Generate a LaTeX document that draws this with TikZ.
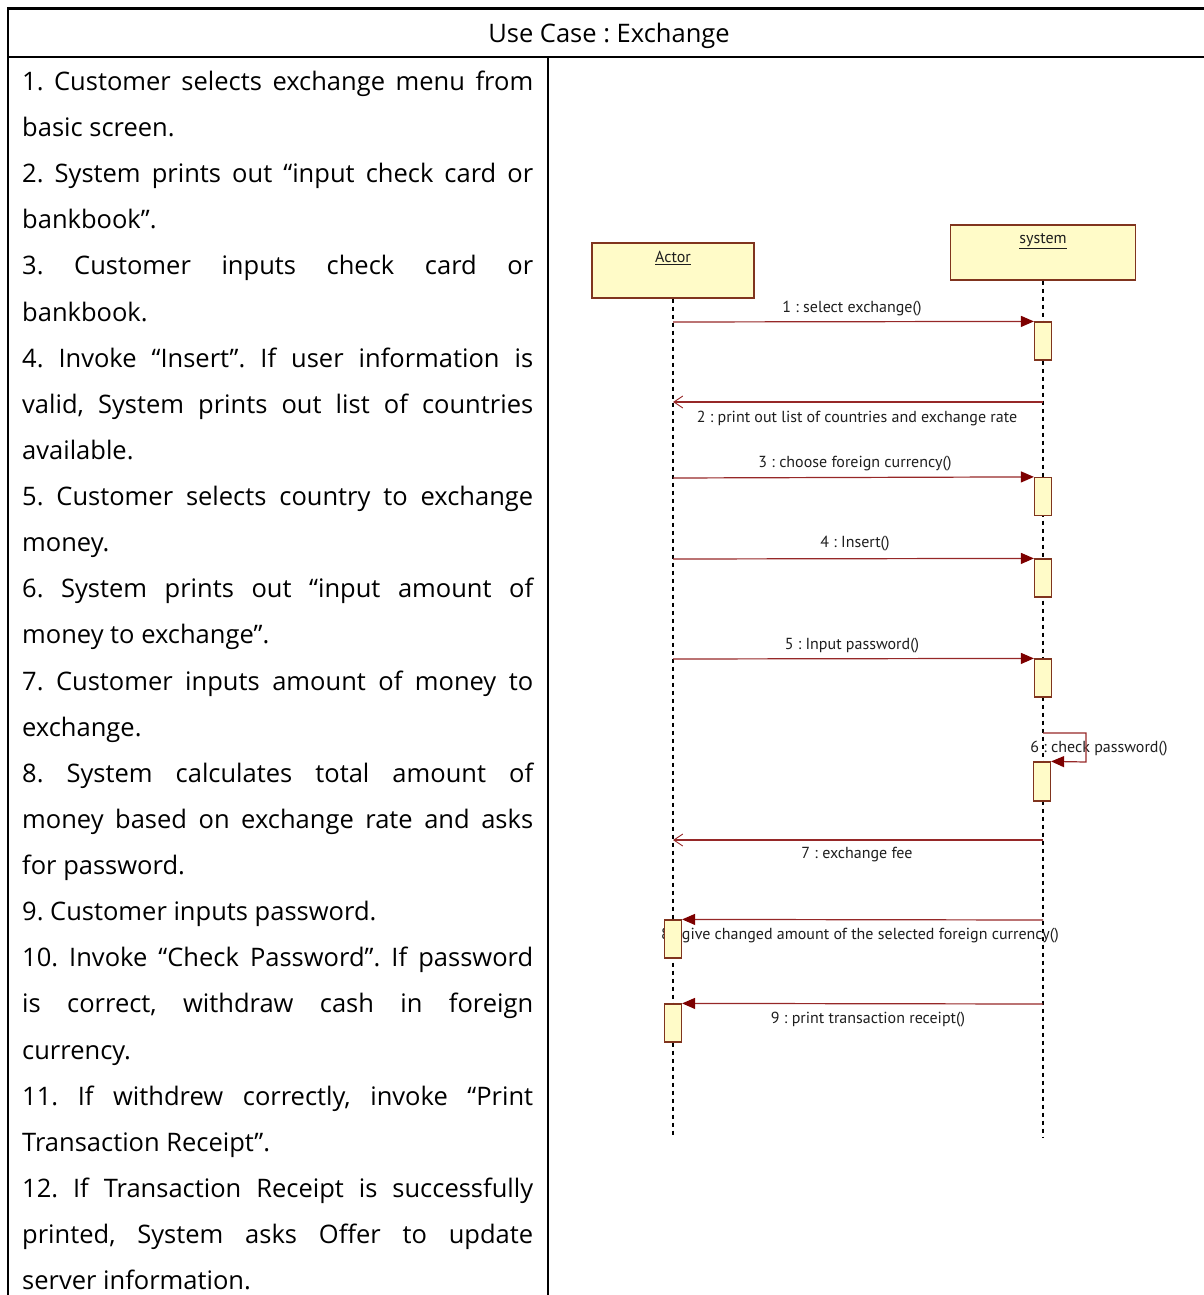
\documentclass[tikz,border=0pt]{standalone}
\usepackage{fontspec}
\setmainfont{Open Sans}
\newfontfamily\umlfont{PT Sans}
\usetikzlibrary{arrows.meta}
\frenchspacing

\definecolor{headfill}{RGB}{255,251,200}
\definecolor{headline}{RGB}{128,52,30}
\definecolor{msgline}{RGB}{150,40,40}
\definecolor{msghead}{RGB}{125,0,0}
\definecolor{umltext}{RGB}{30,30,30}

% one justified line of the step list
\newcommand\jline[1]{\makebox[511pt][s]{#1}}

\tikzset{
  tableline/.style={line width=2.4pt, black},
  rowtext/.style={anchor=base west, inner sep=0pt, font=\fontsize{25.5}{28}\selectfont},
  lifehead/.style={draw=headline, fill=headfill, line width=1.2pt, inner sep=0pt},
  headname/.style={inner sep=0pt, text=umltext, font=\umlfont\fontsize{16}{19}\selectfont},
  lifeline/.style={black, line width=1.5pt, dash pattern=on 4pt off 4pt},
  actbox/.style={draw=headline, fill=headfill, line width=1.2pt, minimum width=17pt, minimum height=38pt, inner sep=0pt},
  callmsg/.style={draw=msgline, line width=1.2pt, -{Triangle[length=13pt,width=11pt,fill=msghead,color=msghead]}},
  replymsg/.style={draw=msgline, line width=1.2pt, -{Straight Barb[length=9pt,width=12pt,line width=0.9pt,color=msgline]}},
  msglabel/.style={inner sep=0pt, text=umltext, font=\umlfont\fontsize{16}{19}\selectfont}
}

\begin{document}
\begin{tikzpicture}[x=1pt, y=-1pt]
\useasboundingbox (0,0) rectangle (1203,1295);

% table frame
\draw[tableline] (8,8.5) -- (1205,8.5);
\draw[tableline] (8,57) -- (1205,57);
\draw[tableline] (8,7.3) -- (8,1297);
\draw[tableline] (548,57) -- (548,1297);

\node[inner sep=0pt, font=\fontsize{25.5}{28}\selectfont] (title) at (609,36) {Use Case : Exchange};

% steps of the use case
\foreach \t [count=\i] in {
  {\jline{1. Customer selects exchange menu from}},
  {basic screen.},
  {\jline{2. System prints out “input check card or}},
  {bankbook”.},
  {\jline{3. Customer inputs check card or}},
  {bankbook.},
  {\jline{4. Invoke “Insert”. If user information is}},
  {\jline{valid, System prints out list of countries}},
  {available.},
  {\jline{5. Customer selects country to exchange}},
  {money.},
  {\jline{6. System prints out “input amount of}},
  {money to exchange”.},
  {\jline{7. Customer inputs amount of money to}},
  {exchange.},
  {\jline{8. System calculates total amount of}},
  {\jline{money based on exchange rate and asks}},
  {for password.},
  {9. Customer inputs password.},
  {\jline{10. Invoke “Check Password”. If password}},
  {\jline{is correct, withdraw cash in foreign}},
  {currency.},
  {\jline{11. If withdrew correctly, invoke “Print}},
  {Transaction Receipt”.},
  {\jline{12. If Transaction Receipt is successfully}},
  {\jline{printed, System asks Offer to update}},
  {server information.}}
  \node[rowtext] (row\i) at (22, {90.5 + 46.12*(\i-1)}) {\t};

% lifeline heads
\node[lifehead, minimum width=162pt, minimum height=55pt] (actor) at (673,270.5) {};
\node[headname] (actorname) at (673,258) {\underline{Actor}};
\node[lifehead, minimum width=185pt, minimum height=55pt] (system) at (1043,252.5) {};
\node[headname] (systemname) at (1043,241) {\underline{system}};

% lifelines
\coordinate (actorend) at (673,1138);
\coordinate (systemend) at (1043,1138);
\draw[lifeline] (actor.south) -- (actorend);
\draw[lifeline] (system.south) -- (systemend);

% message labels (drawn under the activation boxes)
\node[msglabel] (lab1) at (852,309) {1 : select exchange()};
\node[msglabel] (lab2) at (857,418) {2 : print out list of countries and exchange rate};
\node[msglabel] (lab3) at (855,464) {3 : choose foreign currency()};
\node[msglabel] (lab4) at (855,544) {4 : Insert()};
\node[msglabel] (lab5) at (852,646) {5 : Input password()};
\node[msglabel] (lab6) at (1099,749) {6 : check password()};
\node[msglabel] (lab7) at (857,855) {7 : exchange fee};
\node[msglabel] (lab8) at (860,936) {8 : give changed amount of the selected foreign currency()};
\node[msglabel] (lab9) at (868,1020) {9 : print transaction receipt()};

% activation boxes
\node[actbox] (sact1) at (1043,341) {};
\node[actbox] (sact2) at (1043,496.5) {};
\node[actbox] (sact3) at (1043,578) {};
\node[actbox] (sact4) at (1043,678) {};
\node[actbox, minimum height=39pt] (sact5) at (1042,781.5) {};
\node[actbox] (aact1) at (673,939) {};
\node[actbox] (aact2) at (673,1023) {};

% message end points on the lifelines
\coordinate (m1from) at (673,322);
\coordinate (m2from) at (1043,402);
\coordinate (m2to) at (673,402);
\coordinate (m3from) at (673,478);
\coordinate (m4from) at (673,559);
\coordinate (m5from) at (673,659);
\coordinate (m6from) at (1043,733);
\coordinate (m6turn) at (1086,762);
\coordinate (m7from) at (1043,840);
\coordinate (m7to) at (673,840);
\coordinate (m8from) at (1043,920);
\coordinate (m9from) at (1043,1004);

% messages
\draw[callmsg] (m1from) -- (sact1.north west);
\draw[replymsg] (m2from) -- (m2to);
\draw[callmsg] (m3from) -- (sact2.north west);
\draw[callmsg] (m4from) -- (sact3.north west);
\draw[callmsg] (m5from) -- (sact4.north west);
\draw[callmsg] (m6from) -| (m6turn) -- (sact5.north east);
\draw[replymsg] (m7from) -- (m7to);
\draw[callmsg] (m8from) -- (aact1.north east);
\draw[callmsg] (m9from) -- (aact2.north east);
\end{tikzpicture}
\end{document}
